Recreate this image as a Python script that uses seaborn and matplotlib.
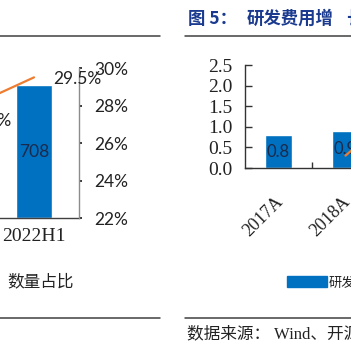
import numpy as np
import pandas as pd
import matplotlib
matplotlib.use("Agg")
import matplotlib.pyplot as plt
import matplotlib.transforms as mtransforms
from matplotlib.lines import Line2D
from matplotlib.patches import Patch
from matplotlib.ticker import FixedLocator, FuncFormatter
import seaborn as sns

# left chart (cropped): unit counts and share
left_cats = ["2021", "2022H1"]
left_counts = [560, 708]          # first bar lies outside the crop (estimate)
left_share = [27.3, 29.5]         # %
left_share_ticks = [22, 24, 26, 28, 30]

# right chart (cropped): R&D expense and growth
right_cats = ["2017A", "2018A", "2019A"]
right_expense = [0.8, 0.9, 1.3]   # last bar outside the crop (estimate)
right_growth = [np.nan, 0.12, 0.68]
right_ticks = [0.0, 0.5, 1.0, 1.5, 2.0, 2.5]

BLUE = "#0070C0"
ORANGE = "#ED7D31"
NAVY = "#1b2a4a"
TITLE_BLUE = "#1a3a8f"
W = H = 351


def fx(x):
    return x / W


def fy(y):
    return 1 - y / H


sns.set_theme(style="white")
plt.rcParams["font.family"] = ["Noto Sans CJK SC", "DejaVu Sans"]

fig = plt.figure(figsize=(3.51, 3.51), dpi=100)

# ---------------- left chart ----------------
axl = fig.add_axes([fx(-101), fy(218), fx(180), 150 / H])
sns.barplot(x=left_cats, y=left_counts, color=BLUE, saturation=1, width=0.4,
            errorbar=None, ax=axl)
axl.set_ylim(0, 800)
axl.set_xlim(-0.5, len(left_cats) - 0.5)
axl.bar_label(axl.containers[0], fmt="{:.0f}", label_type="center",
              color=NAVY, fontsize=12.5, family="Lato")
for s in ["top", "left", "right"]:
    axl.spines[s].set_visible(False)
axl.spines["bottom"].set_color("#404040")
axl.spines["bottom"].set_linewidth(1.0)
axl.set_yticks([])
axl.tick_params(axis="x", length=0, pad=7)
for t in axl.get_xticklabels():
    t.set_fontfamily("Liberation Serif")
    t.set_fontsize(14)
    t.set_color("#222222")

axl2 = axl.twinx()
sns.lineplot(x=np.arange(len(left_cats)), y=left_share, color=ORANGE,
             linewidth=1.6, ax=axl2)
axl2.set_ylim(22, 30)
axl2.set_xlim(-0.5, len(left_cats) - 0.5)
axl2.yaxis.set_major_locator(FixedLocator(left_share_ticks))
axl2.yaxis.set_major_formatter(FuncFormatter(lambda v, p: f"{v:.0f}%"))
axl2.tick_params(axis="y", length=2, pad=9, labelsize=12.5, colors="#222222")
for t in axl2.get_yticklabels():
    t.set_fontfamily("Lato")
for s in ["top", "left", "bottom"]:
    axl2.spines[s].set_visible(False)
axl2.spines["right"].set_color("#8c8c8c")
axl2.spines["right"].set_linewidth(1.0)
for i, v in enumerate(left_share):
    axl2.annotate(f"{v}%", (i, v), xytext=(13.5, -1.4), textcoords="offset points",
                  ha="left", va="center", fontsize=12.5, family="Lato", color="#222222")
axl2.set_ylabel("")

fig.text(fx(7), fy(282), "数量占比", fontsize=12, color="#222222",
         ha="left", va="center")

# ---------------- right chart ----------------
axr = fig.add_axes([fx(245), fy(168), fx(67 * len(right_cats)), 103 / H])
sns.barplot(x=right_cats, y=right_expense, color=BLUE, saturation=1, width=0.4,
            errorbar=None, ax=axr)
axr.set_ylim(0, 2.5)
axr.set_xlim(-0.5, len(right_cats) - 0.5)
axr.bar_label(axr.containers[0], fmt="{:.1f}", label_type="center",
              color=NAVY, fontsize=12, family="Lato")
axr.yaxis.set_major_locator(FixedLocator(right_ticks))
axr.yaxis.set_major_formatter(FuncFormatter(lambda v, p: f"{v:.1f}"))
axr.tick_params(axis="y", direction="in", length=5, width=1, pad=9,
                labelsize=14, colors="#333333", labelcolor="#222222", left=True)
for t in axr.get_yticklabels():
    t.set_fontfamily("Liberation Serif")
axr.set_xticks(range(len(right_cats)))
axr.set_xticklabels(right_cats, rotation=45, ha="right", fontsize=13,
                    family="Liberation Serif", color="#222222")
axr.tick_params(axis="x", which="major", length=0, pad=17)
shift = mtransforms.ScaledTranslation(8 / 100, -2 / 100, fig.dpi_scale_trans)
for t in axr.get_xticklabels():
    t.set_transform(t.get_transform() + shift)
axr.set_xticks(np.arange(len(right_cats) - 1) + 0.5, minor=True)
axr.tick_params(axis="x", which="minor", direction="in", length=4, width=1,
                color="#333333", bottom=True)
for s in ["top", "right"]:
    axr.spines[s].set_visible(False)
for s in ["left", "bottom"]:
    axr.spines[s].set_color("#333333")
    axr.spines[s].set_linewidth(1.0)

axr2 = axr.twinx()
sns.lineplot(x=np.arange(len(right_cats)), y=right_growth, color=ORANGE,
             linewidth=1.6, ax=axr2)
axr2.set_ylim(0, 1)
axr2.set_xlim(-0.5, len(right_cats) - 0.5)
axr2.set_yticks([])
axr2.set_ylabel("")
for s in axr2.spines.values():
    s.set_visible(False)

handles = [Patch(color=BLUE), Line2D([], [], color=ORANGE, linewidth=1.6)]
axr.legend(handles, ["研发费用（亿元）", "同比增速"], ncol=2, frameon=False,
           loc="center left", bbox_to_anchor=(fx(287), fy(283)),
           bbox_transform=fig.transFigure, borderpad=0, borderaxespad=0,
           handlelength=3.0, handleheight=0.9, handletextpad=0.15,
           fontsize=9.5, labelcolor="#222222")

fig.text(fx(188), fy(19), "图 5：", fontsize=12.5, fontweight="bold",
         color=TITLE_BLUE, ha="left", va="center")
fig.text(fx(247), fy(19), "研发费用增", fontsize=12.5, fontweight="bold",
         color=TITLE_BLUE, ha="left", va="center")
fig.text(fx(346), fy(19), "长情况", fontsize=12.5, fontweight="bold",
         color=TITLE_BLUE, ha="left", va="center")
fig.text(fx(187), fy(334), "数据来源： Wind、开源证券研究所", fontsize=12,
         family=["Liberation Serif", "Noto Sans CJK SC"], color="#222222",
         ha="left", va="center")

# report frame rules
for x0, x1 in [(0, 160), (185, 351)]:
    for y in (36, 318):
        fig.add_artist(Line2D([fx(x0), fx(x1)], [fy(y), fy(y)],
                              transform=fig.transFigure, color="#404040", linewidth=1.1))

fig.savefig("out.png", dpi=100)
